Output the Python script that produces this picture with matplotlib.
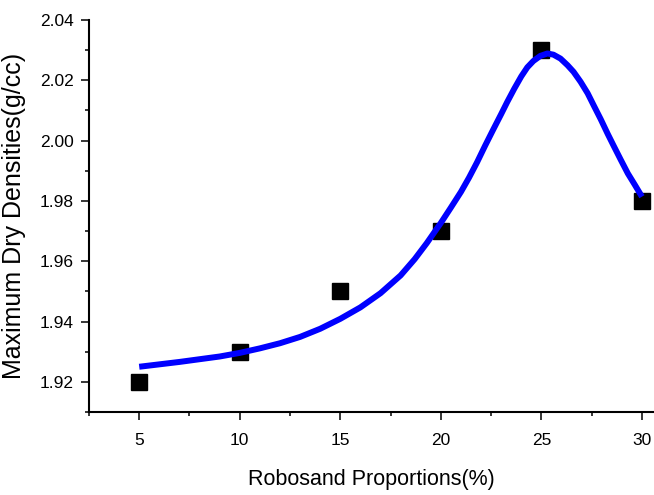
import matplotlib
matplotlib.use("Agg")
import matplotlib.pyplot as plt
from matplotlib import font_manager
from matplotlib.ticker import MultipleLocator

# measured points
robosand = [5, 10, 15, 20, 25, 30]
mdd = [1.92, 1.93, 1.95, 1.97, 2.03, 1.98]

# fitted curve
fit_x = [5, 6, 7, 8, 9, 10, 11, 12, 13, 14, 15, 16, 17, 18, 18.7, 19.3,
         20, 20.5, 21, 21.4, 21.8, 22.2, 22.6, 23.0, 23.3, 23.65, 24.0,
         24.3, 24.6, 24.95, 25.3, 25.6, 25.95, 26.3, 26.6, 26.95, 27.3,
         27.6, 27.95, 28.3, 28.6, 28.95, 29.3, 29.65, 30]
fit_y = [1.925, 1.9258, 1.9266, 1.9275, 1.9284, 1.9296, 1.9311, 1.9328,
         1.9349, 1.9376, 1.9409, 1.9447, 1.9494, 1.9553, 1.9607, 1.9660,
         1.9727, 1.9778, 1.9830, 1.9877, 1.9928, 1.9983, 2.0036, 2.0088,
         2.0128, 2.0172, 2.0213, 2.0243, 2.0264, 2.0281, 2.0289, 2.0285,
         2.0272, 2.0250, 2.0228, 2.0195, 2.0157, 2.0117, 2.0071, 2.0022,
         1.9982, 1.9936, 1.9891, 1.9853, 1.9814]

xticks = [5, 10, 15, 20, 25, 30]
yticks = [1.92, 1.94, 1.96, 1.98, 2.00, 2.02, 2.04]

names = {f.name for f in font_manager.fontManager.ttflist}
narrow = "Liberation Sans Narrow" in names
plt.rcParams["font.family"] = ["Liberation Sans", "DejaVu Sans"]

fig = plt.figure(figsize=(6.54, 4.95), dpi=100)
ax = fig.add_axes([0.136, 0.1677, 0.864, 0.7919])

ax.plot(robosand, mdd, "s", color="black", markersize=11.5, zorder=2)
ax.plot(fit_x, fit_y, color="#0000ff", lw=4.3, zorder=3,
        solid_capstyle="butt", solid_joinstyle="round")

ax.set_xlim(2.5, 30.6)
ax.set_ylim(1.91, 2.04)
ax.set_xticks(xticks)
ax.set_yticks(yticks)
ax.set_yticklabels([f"{v:.2f}" for v in yticks])
ax.xaxis.set_minor_locator(MultipleLocator(2.5))
ax.yaxis.set_minor_locator(MultipleLocator(0.01))

for s in ["top", "right"]:
    ax.spines[s].set_visible(False)
for s in ["left", "bottom"]:
    ax.spines[s].set_linewidth(1.5)

ax.tick_params(which="major", length=6, width=1.1, labelsize=12.5,
               direction="out")
ax.tick_params(which="minor", length=3, width=1.1, direction="out")
ax.tick_params(axis="x", pad=9)
ax.tick_params(axis="y", pad=5)

if narrow:
    ax.set_xlabel("Robosand Proportions(%)", fontsize=18,
                  family=["Liberation Sans Narrow", "Liberation Sans"],
                  labelpad=13)
else:
    ax.set_xlabel("Robosand Proportions(%)", fontsize=15.5, labelpad=15)
ax.set_ylabel("Maximum Dry Densities(g/cc)", fontsize=18, labelpad=10)

fig.savefig("out.png", dpi=100)
